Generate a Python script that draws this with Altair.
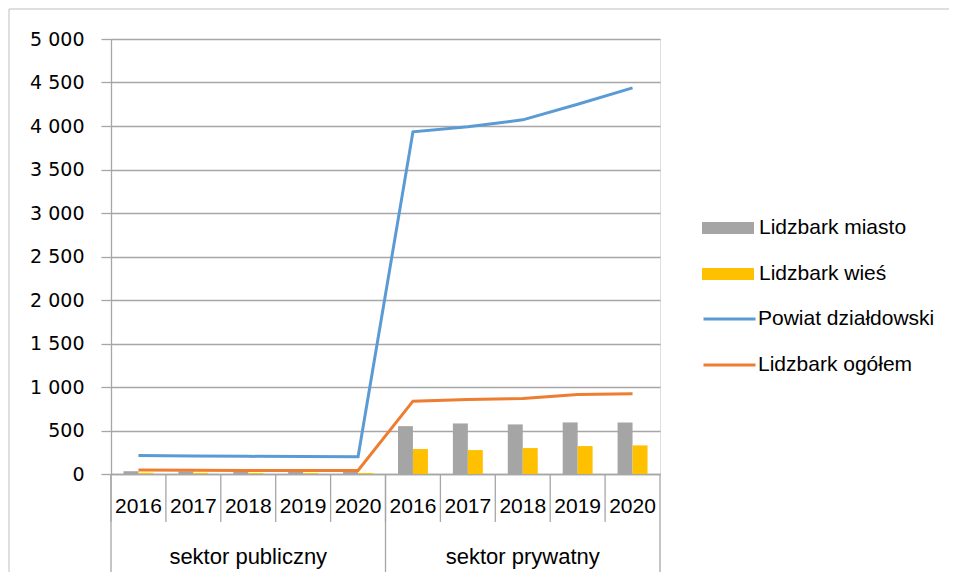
import altair as alt
import pandas as pd

years = ["2016", "2017", "2018", "2019", "2020"]
sector_keys = ["pub", "pryw"]
sector_names = ["sektor publiczny", "sektor prywatny"]

miasto = [32, 30, 29, 28, 28, 550, 581, 570, 593, 593]
wies = [14, 13, 12, 12, 12, 287, 275, 298, 321, 329]
powiat = [214, 208, 203, 200, 198, 3933, 3991, 4071, 4250, 4438]
ogolem = [46, 43, 41, 40, 40, 837, 856, 868, 914, 922]

bar_series = ["Lidzbark miasto", "Lidzbark wieś"]
line_series = ["Powiat działdowski", "Lidzbark ogółem"]
bar_colors = ["#A5A5A5", "#FFC000"]
line_colors = ["#5B9BD5", "#ED7D31"]

cats = [f"{k}|{y}" for k in sector_keys for y in years]

W, H = 549, 435
GRAY = "#A6A6A6"

bars_df = pd.DataFrame({
    "cat": cats * 2,
    "series": [bar_series[0]] * len(cats) + [bar_series[1]] * len(cats),
    "value": miasto + wies,
})
lines_df = pd.DataFrame({
    "cat": cats * 2,
    "series": [line_series[0]] * len(cats) + [line_series[1]] * len(cats),
    "value": powiat + ogolem,
})
ticks_df = pd.DataFrame({"cat": cats})
group_start_df = pd.DataFrame({"cat": [f"{k}|{years[0]}" for k in sector_keys]})
group_end_df = pd.DataFrame({"cat": [f"{sector_keys[-1]}|{years[-1]}"]})
group_lbl_df = pd.DataFrame({"cat": [f"{k}|{years[2]}" for k in sector_keys],
                             "name": sector_names})

xscale = alt.Scale(domain=cats, paddingInner=0, paddingOuter=0)
xaxis = alt.Axis(title=None, labelExpr="split(datum.label, '|')[1]", labelAngle=0,
                 ticks=False, domain=True, domainColor=GRAY, domainWidth=1.3,
                 labelFont="Liberation Sans", labelFontSize=21, labelColor="black",
                 labelBaseline="middle", labelPadding=32, grid=False)


def X(**kw):
    return alt.X("cat:N", sort=cats, scale=xscale, axis=xaxis, **kw)


yscale = alt.Scale(domain=[0, 5000], nice=False)
yaxis = alt.Axis(title=None, values=list(range(0, 5001, 500)),
                 labelExpr="replace(format(datum.value, ','), ',', ' ')",
                 grid=True, gridColor=GRAY, gridWidth=1.3,
                 tickSize=10, tickColor=GRAY, tickWidth=1.3,
                 domainColor=GRAY, domainWidth=1.3,
                 labelFont="DejaVu Sans", labelFontSize=19, labelColor="black",
                 labelPadding=17)

bars = alt.Chart(bars_df).mark_bar().encode(
    x=X(),
    xOffset=alt.XOffset("series:N", sort=bar_series,
                        scale=alt.Scale(domain=bar_series, paddingInner=0, paddingOuter=0.833)),
    y=alt.Y("value:Q", scale=yscale, axis=yaxis),
    color=alt.Color("series:N", scale=alt.Scale(domain=bar_series, range=bar_colors),
                    legend=alt.Legend(title=None, orient="none", legendX=591, legendY=177,
                                      symbolType="M-1,-0.23H1V0.23H-1Z", symbolSize=2704,
                                      symbolStrokeWidth=0, clipHeight=24, rowPadding=22,
                                      labelFont="Liberation Sans", labelFontSize=21,
                                      labelColor="black", labelOffset=5, labelLimit=0,
                                      padding=0)),
)

lines = alt.Chart(lines_df).mark_line(strokeWidth=3).encode(
    x=X(),
    y=alt.Y("value:Q", scale=yscale, axis=yaxis),
    stroke=alt.Stroke("series:N", scale=alt.Scale(domain=line_series, range=line_colors),
                      legend=alt.Legend(title=None, orient="none", legendX=591, legendY=268,
                                        symbolType="stroke", symbolSize=2704,
                                        symbolStrokeWidth=3, clipHeight=24, rowPadding=22,
                                        labelFont="Liberation Sans", labelFontSize=21,
                                        labelColor="black", labelOffset=1, labelLimit=0,
                                        padding=0)),
)

tick_rules = alt.Chart(ticks_df).mark_rule(color=GRAY, strokeWidth=1.3).encode(
    x=X(bandPosition=0), y=alt.value(H), y2=alt.value(H + 48))

group_rules_a = alt.Chart(group_start_df).mark_rule(color=GRAY, strokeWidth=1.3).encode(
    x=X(bandPosition=0), y=alt.value(H), y2=alt.value(H + 98))
group_rules_b = alt.Chart(group_end_df).mark_rule(color=GRAY, strokeWidth=1.3).encode(
    x=X(bandPosition=1), y=alt.value(H), y2=alt.value(H + 98))

group_labels = alt.Chart(group_lbl_df).mark_text(
    font="Liberation Sans", fontSize=22, color="black", baseline="middle", align="center"
).encode(x=X(), y=alt.value(H + 83), text="name:N")

frame_df = pd.DataFrame({"a": [0]})
frame_top = alt.Chart(frame_df).mark_rule(color="#BFBFBF", strokeWidth=1).encode(
    x=alt.value(-102), x2=alt.value(838), y=alt.value(-30))
frame_left = alt.Chart(frame_df).mark_rule(color="#BFBFBF", strokeWidth=1).encode(
    x=alt.value(-102), y=alt.value(-30), y2=alt.value(H + 98))

chart = alt.layer(
    frame_top, frame_left, bars, lines, tick_rules, group_rules_a, group_rules_b, group_labels
).properties(width=W, height=H, padding=0).configure_view(stroke=None).configure(background="white")

chart.save("out.html", embed_options={"renderer": "svg", "actions": False})
